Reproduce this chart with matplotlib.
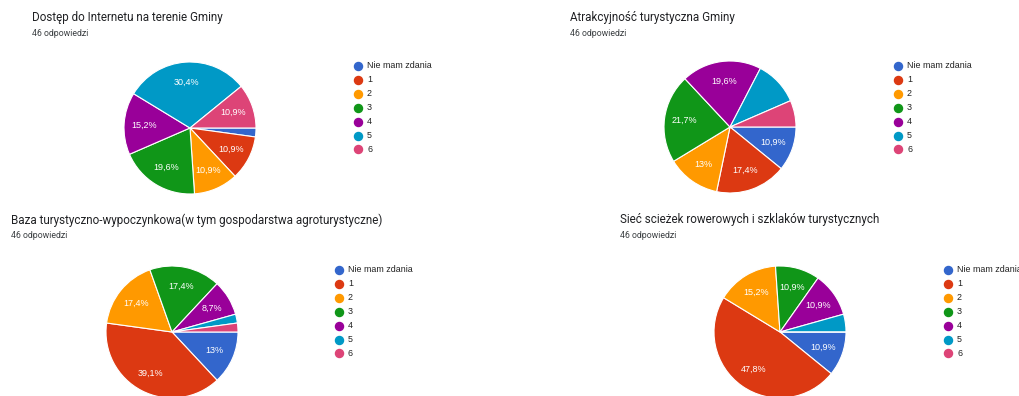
import matplotlib
matplotlib.use("Agg")
import numpy as np
import matplotlib.pyplot as plt
from matplotlib.lines import Line2D

W, H = 1019, 396

categories = ["Nie mam zdania", "1", "2", "3", "4", "5", "6"]
colors = ["#3366cc", "#dc3912", "#ff9900", "#109618", "#990099", "#0099c6", "#dd4477"]

titles = [
    "Dostęp do Internetu na terenie Gminy",
    "Atrakcyjność turystyczna Gminy",
    "Baza turystyczno-wypoczynkowa(w tym gospodarstwa agroturystyczne)",
    "Sieć scieżek rowerowych i szklaków turystycznych",
]
subtitle = "46 odpowiedzi"

# answer counts per category (46 responses each)
internet = [1, 5, 5, 9, 7, 14, 5]
atrakcyjnosc = [5, 8, 6, 10, 9, 5, 3]
baza = [6, 18, 8, 8, 4, 1, 1]
sciezki = [5, 22, 7, 5, 5, 2, 0]

# slices whose percentage label is not shown in the reference
hidden = [[0], [5, 6], [5, 6], [5, 6]]

# layout in pixels: title pos, pie centre, legend pos
layout = [
    dict(title=(32, 18), center=(190, 128), legend=(358, 66)),
    dict(title=(570, 18), center=(730, 127), legend=(898, 66)),
    dict(title=(11, 220), center=(172, 332), legend=(339, 270)),
    dict(title=(620, 220), center=(780, 332), legend=(948, 270)),
]
R = 66
ROW = 13.9


def fx(x):
    return x / W


def fy(y):
    return 1 - y / H


def pct_label(v, total):
    p = round(100.0 * v / total, 1)
    s = ("%.1f" % p).rstrip("0").rstrip(".")
    return s.replace(".", ",") + "%"


fig = plt.figure(figsize=(W / 100, H / 100), dpi=100)
fig.patch.set_facecolor("white")

data = [internet, atrakcyjnosc, baza, sciezki]
for k, vals in enumerate(data):
    lay = layout[k]
    tx, ty = lay["title"]
    fig.text(fx(tx), fy(ty), titles[k], fontsize=8.4, family="Roboto",
             color="#202124", ha="left", va="center")
    fig.text(fx(tx), fy(ty + 15), subtitle, fontsize=6.3, family="Roboto",
             color="#3c4043", ha="left", va="center")

    cx, cy = lay["center"]
    ax = fig.add_axes([fx(cx - R), fy(cy + R), 2 * R / W, 2 * R / H])
    ax.axis("off")
    total = sum(vals)
    wedges, _ = ax.pie(vals, colors=colors, startangle=0, counterclock=False,
                       radius=1, frame=False,
                       wedgeprops=dict(edgecolor="white", linewidth=0.8))
    ax.set_xlim(-1, 1)
    ax.set_ylim(-1, 1)
    ax.set_aspect("auto")
    for i, w in enumerate(wedges):
        if vals[i] == 0 or i in hidden[k]:
            continue
        ang = np.deg2rad((w.theta1 + w.theta2) / 2)
        ax.text(0.7 * np.cos(ang), 0.7 * np.sin(ang), pct_label(vals[i], total),
                ha="center", va="center", color="white", fontsize=6.5,
                family="Liberation Sans")

    lx, ly = lay["legend"]
    for i, cat in enumerate(categories):
        yy = ly + i * ROW
        fig.add_artist(Line2D([fx(lx)], [fy(yy)], marker="o", markersize=5.8,
                              color=colors[i], linestyle="none",
                              transform=fig.transFigure))
        fig.text(fx(lx + 9), fy(yy), cat, fontsize=6.4, family="Liberation Sans",
                 color="#222222", ha="left", va="center")

fig.savefig("out.png", dpi=100)
